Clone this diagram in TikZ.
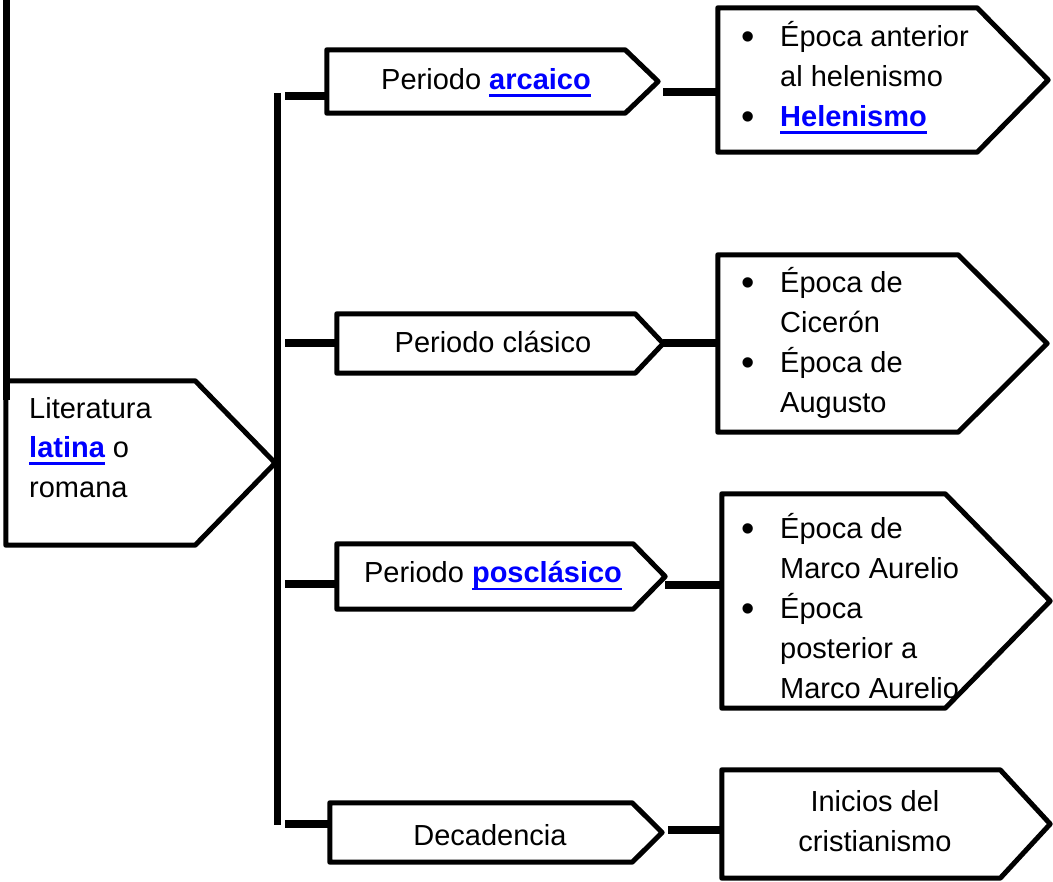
\documentclass[tikz,border=0pt]{standalone}
\usepackage{fontspec}
\setmainfont{Liberation Sans}
\usetikzlibrary{calc}
\definecolor{linkblue}{RGB}{0,0,255}
% bold blue underlined word
\newcommand\lnk[1]{{\color{linkblue}\bfseries\setbox0\hbox{#1}\rlap{\rule[-7pt]{\wd0}{2.5pt}}\box0}}
% hanging bullet
\newcommand\bul{\llap{\raisebox{-3pt}{\fontsize{38}{38}\selectfont\textbullet}\hspace{25pt}}}
\begin{document}
\begin{tikzpicture}[x=1pt, y=-1pt,
    outline/.style={line width=5pt, line join=round},
    conn/.style={line width=8pt},
    spine/.style={line width=7pt},
    shapebox/.style={inner sep=0pt},
    txt/.style={inner sep=0pt, font=\fontsize{29}{40}\selectfont}]
    \useasboundingbox (0,0) rectangle (1053,882);
    % bodies of the arrow boxes
    \node[shapebox, minimum width=189, minimum height=164] (lit) at (100.5,463) {};
    \node[shapebox, minimum width=298, minimum height=63] (arc) at (476,81.5) {};
    \node[shapebox, minimum width=298, minimum height=59] (cla) at (486,343.5) {};
    \node[shapebox, minimum width=296, minimum height=65] (pos) at (485,576.5) {};
    \node[shapebox, minimum width=302, minimum height=59] (dec) at (481,832.5) {};
    \node[shapebox, minimum width=259, minimum height=144] (r1) at (847.5,80) {};
    \node[shapebox, minimum width=240, minimum height=177] (r2) at (838,343.5) {};
    \node[shapebox, minimum width=223, minimum height=214] (r3) at (833.5,601) {};
    \node[shapebox, minimum width=278, minimum height=108] (r4) at (861,824) {};
    % texts, base is the last line
    \node[txt, align=left, anchor=base west] (lit-t) at (29,498) {Literatura\\\lnk{latina} o\\romana};
    \node[txt, anchor=base] (arc-t) at (486,90) {Periodo \lnk{arcaico}};
    \node[txt, anchor=base] (cla-t) at (493,353) {Periodo clásico};
    \node[txt, anchor=base] (pos-t) at (493,583) {Periodo \lnk{posclásico}};
    \node[txt, anchor=base] (dec-t) at (490,845) {Decadencia};
    \node[txt, align=left, anchor=base west] (r1-t) at (780,127) {\bul Época anterior\\al helenismo\\\bul\lnk{Helenismo}};
    \node[txt, align=left, anchor=base west] (r2-t) at (780,413) {\bul Época de\\Cicerón\\\bul Época de\\Augusto};
    \node[txt, align=left, anchor=base west] (r3-t) at (780,698) {\bul Época de\\Marco Aurelio\\\bul Época\\posterior a\\Marco Aurelio};
    \node[txt, align=center, anchor=base] (r4-t) at (875,851) {Inicios del\\cristianismo};
    % outlines, the point sticks out by \d
    \foreach \n/\d in {lit/80, arc/33, cla/28, pos/32, dec/30, r1/71, r2/89, r3/105, r4/50}{
        \draw[outline] (\n.north west) -- (\n.north east) -- ($(\n.east)+(\d,0)$)
            -- (\n.south east) -- (\n.south west) -- cycle;
    }
    % bar on the left edge and the spine
    \coordinate (edge) at (6,0);
    \draw[spine] (edge) -- (edge |- 0,400);
    \coordinate (top) at (277,93);
    \coordinate (bot) at (277,825);
    \draw[spine] (top) -- (bot);
    % connectors
    \coordinate (s1) at (285,96);
    \coordinate (s2) at (285,343);
    \coordinate (s3) at (285,584);
    \coordinate (s4) at (285,824);
    \draw[conn] (s1) -- (s1 -| arc.west);
    \draw[conn] (s2) -- (s2 -| cla.west);
    \draw[conn] (s3) -- (s3 -| pos.west);
    \draw[conn] (s4) -- (s4 -| dec.west);
    \coordinate (t1) at (663,92);
    \coordinate (t2) at (663,343);
    \coordinate (t3) at (665,585);
    \coordinate (t4) at (668,830);
    \draw[conn] (t1) -- (t1 -| r1.west);
    \draw[conn] (t2) -- (t2 -| r2.west);
    \draw[conn] (t3) -- (t3 -| r3.west);
    \draw[conn] (t4) -- (t4 -| r4.west);
\end{tikzpicture}
\end{document}
